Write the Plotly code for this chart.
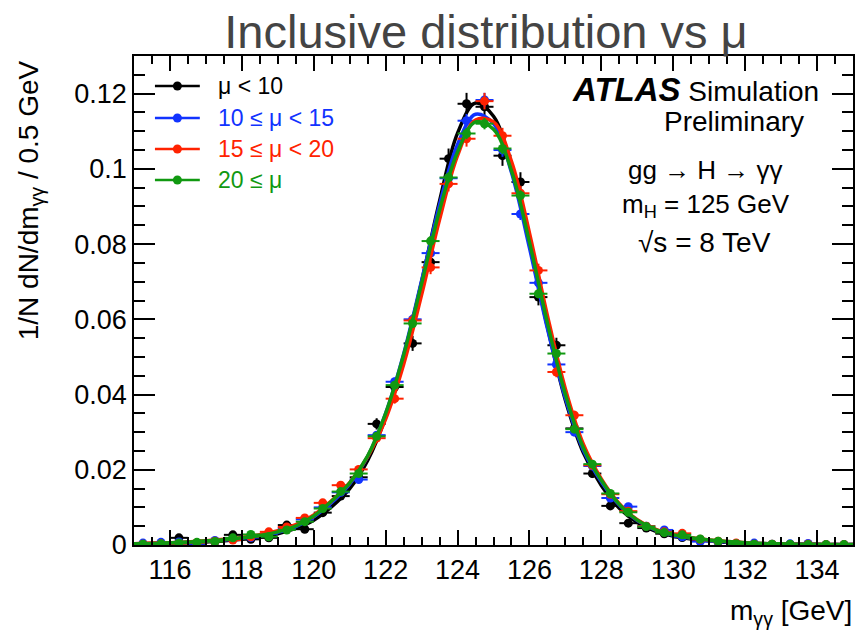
import plotly.graph_objects as go

# ---------------- data ----------------
bin_centers = [115.25 + 0.5 * i for i in range(40)]
curve_x = [115.0 + 0.5 * i for i in range(41)]

labels = ["μ < 10", "10 ≤ μ < 15", "15 ≤ μ < 20", "20 ≤ μ"]
colors = ["#000000", "#1133ff", "#ff2200", "#119911"]

pts_mu_lt10 = [0.0001, 0.0002, 0.0019, 0.0002, 0.0008, 0.0027, 0.0015, 0.0019, 0.0053, 0.0042,
               0.0086, 0.0130, 0.0180, 0.0322, 0.0420, 0.0536, 0.0752, 0.1027, 0.1173, 0.1165,
               0.1035, 0.0965, 0.0659, 0.0531, 0.0310, 0.0190, 0.0104, 0.0058, 0.0045, 0.0030,
               0.0020, 0.0012, 0.0008, 0.0004, 0.0002, 0.0001, 0.0001, 0.0001, 0.0000, 0.0000]
err_mu_lt10 = [0.0001, 0.0001, 0.0004, 0.0001, 0.0002, 0.0004, 0.0003, 0.0004, 0.0006, 0.0006,
               0.0008, 0.0010, 0.0011, 0.0015, 0.0017, 0.0020, 0.0023, 0.0027, 0.0029, 0.0029,
               0.0027, 0.0026, 0.0022, 0.0020, 0.0015, 0.0012, 0.0009, 0.0006, 0.0006, 0.0005,
               0.0004, 0.0003, 0.0002, 0.0002, 0.0001, 0.0001, 0.0001, 0.0001, 0.0000, 0.0000]

pts_mu_10_15 = [0.0005, 0.0007, 0.0008, 0.0003, 0.0012, 0.0015, 0.0020, 0.0030, 0.0045, 0.0068,
                0.0100, 0.0140, 0.0174, 0.0292, 0.0434, 0.0600, 0.0776, 0.0975, 0.1128, 0.1183,
                0.1050, 0.0880, 0.0697, 0.0480, 0.0300, 0.0210, 0.0125, 0.0102, 0.0050, 0.0040,
                0.0022, 0.0009, 0.0008, 0.0004, 0.0005, 0.0002, 0.0003, 0.0004, 0.0001, 0.0001]
err_mu_10_15 = [0.0001, 0.0001, 0.0002, 0.0001, 0.0002, 0.0002, 0.0002, 0.0003, 0.0004, 0.0005,
                0.0006, 0.0007, 0.0007, 0.0009, 0.0011, 0.0013, 0.0015, 0.0017, 0.0018, 0.0019,
                0.0018, 0.0016, 0.0015, 0.0012, 0.0010, 0.0008, 0.0006, 0.0006, 0.0004, 0.0003,
                0.0003, 0.0002, 0.0002, 0.0001, 0.0001, 0.0001, 0.0001, 0.0001, 0.0001, 0.0001]

pts_mu_15_20 = [0.0002, 0.0003, 0.0004, 0.0006, 0.0010, 0.0013, 0.0022, 0.0035, 0.0048, 0.0072,
                0.0112, 0.0159, 0.0201, 0.0284, 0.0389, 0.0597, 0.0738, 0.0960, 0.1080, 0.1180,
                0.1088, 0.0935, 0.0730, 0.0460, 0.0345, 0.0212, 0.0135, 0.0090, 0.0050, 0.0035,
                0.0031, 0.0015, 0.0010, 0.0005, 0.0002, 0.0002, 0.0001, 0.0002, 0.0001, 0.0001]
err_mu_15_20 = [0.0001, 0.0001, 0.0001, 0.0002, 0.0002, 0.0002, 0.0003, 0.0004, 0.0005, 0.0006,
                0.0007, 0.0008, 0.0009, 0.0011, 0.0013, 0.0016, 0.0018, 0.0020, 0.0021, 0.0022,
                0.0021, 0.0020, 0.0018, 0.0014, 0.0012, 0.0009, 0.0008, 0.0006, 0.0005, 0.0004,
                0.0004, 0.0003, 0.0002, 0.0001, 0.0001, 0.0001, 0.0001, 0.0001, 0.0001, 0.0001]

pts_mu_ge20 = [0.0002, 0.0003, 0.0005, 0.0007, 0.0009, 0.0019, 0.0028, 0.0022, 0.0040, 0.0062,
               0.0097, 0.0142, 0.0190, 0.0289, 0.0425, 0.0589, 0.0808, 0.0977, 0.1094, 0.1120,
               0.1054, 0.0929, 0.0668, 0.0509, 0.0308, 0.0215, 0.0137, 0.0087, 0.0049, 0.0033,
               0.0027, 0.0016, 0.0010, 0.0003, 0.0002, 0.0002, 0.0002, 0.0001, 0.0001, 0.0001]
err_mu_ge20 = [0.0001, 0.0001, 0.0001, 0.0001, 0.0001, 0.0002, 0.0002, 0.0002, 0.0003, 0.0004,
               0.0004, 0.0005, 0.0006, 0.0008, 0.0009, 0.0011, 0.0013, 0.0014, 0.0015, 0.0015,
               0.0015, 0.0014, 0.0012, 0.0010, 0.0008, 0.0007, 0.0005, 0.0004, 0.0003, 0.0003,
               0.0002, 0.0002, 0.0001, 0.0001, 0.0001, 0.0001, 0.0001, 0.0001, 0.0001, 0.0001]

fit_mu_lt10 = [0.0002, 0.0003, 0.0004, 0.0006, 0.0008, 0.0011, 0.0015, 0.0021, 0.0030, 0.0044,
               0.0066, 0.0102, 0.0150, 0.0225, 0.0340, 0.0500, 0.0700, 0.0915, 0.1095, 0.1175,
               0.1140, 0.1005, 0.0800, 0.0580, 0.0385, 0.0245, 0.0158, 0.0098, 0.0060, 0.0037,
               0.0024, 0.0016, 0.0011, 0.0007, 0.0005, 0.0003, 0.0002, 0.0002, 0.0001, 0.0001, 0.0001]
fit_mu_10_15 = [0.0003, 0.0004, 0.0005, 0.0007, 0.0010, 0.0013, 0.0018, 0.0024, 0.0034, 0.0049,
                0.0075, 0.0113, 0.0162, 0.0235, 0.0350, 0.0508, 0.0703, 0.0905, 0.1065, 0.1145,
                0.1120, 0.0990, 0.0790, 0.0575, 0.0390, 0.0252, 0.0168, 0.0106, 0.0065, 0.0040,
                0.0026, 0.0018, 0.0012, 0.0008, 0.0006, 0.0004, 0.0003, 0.0002, 0.0002, 0.0001, 0.0001]
fit_mu_15_20 = [0.0003, 0.0005, 0.0006, 0.0008, 0.0011, 0.0015, 0.0020, 0.0027, 0.0038, 0.0054,
                0.0080, 0.0118, 0.0166, 0.0235, 0.0335, 0.0480, 0.0665, 0.0865, 0.1035, 0.1130,
                0.1125, 0.1020, 0.0830, 0.0610, 0.0415, 0.0268, 0.0176, 0.0110, 0.0067, 0.0042,
                0.0028, 0.0019, 0.0013, 0.0009, 0.0006, 0.0004, 0.0003, 0.0002, 0.0002, 0.0001, 0.0001]
fit_mu_ge20 = [0.0003, 0.0004, 0.0006, 0.0008, 0.0011, 0.0014, 0.0019, 0.0025, 0.0035, 0.0050,
               0.0077, 0.0117, 0.0165, 0.0237, 0.0350, 0.0505, 0.0695, 0.0890, 0.1045, 0.1125,
               0.1105, 0.0995, 0.0805, 0.0590, 0.0400, 0.0258, 0.0172, 0.0108, 0.0066, 0.0041,
               0.0027, 0.0019, 0.0013, 0.0009, 0.0006, 0.0004, 0.0003, 0.0002, 0.0002, 0.0001, 0.0001]

series_pts = [pts_mu_lt10, pts_mu_10_15, pts_mu_15_20, pts_mu_ge20]
series_err = [err_mu_lt10, err_mu_10_15, err_mu_15_20, err_mu_ge20]
series_fit = [fit_mu_lt10, fit_mu_10_15, fit_mu_15_20, fit_mu_ge20]

# ---------------- figure ----------------
FONT = "Liberation Sans, Arial, Helvetica, sans-serif"
fig = go.Figure()

for lab, col, pts, err, fit in zip(labels, colors, series_pts, series_err, series_fit):
    fig.add_trace(go.Scatter(
        x=bin_centers, y=pts, mode="markers", name=lab, showlegend=False,
        marker=dict(color=col, size=9),
        error_y=dict(type="data", array=err, color=col, thickness=2, width=0),
        error_x=dict(type="constant", value=0.25, color=col, thickness=2, width=0),
    ))
    fig.add_trace(go.Scatter(
        x=curve_x, y=fit, mode="lines", showlegend=False,
        line=dict(color=col, width=3.5, shape="spline", smoothing=1.0),
    ))

# plot-area pixel geometry helpers (for legend / text placement only)
L, R, T, B = 134, 855, 56, 545
def px(xp):
    return (xp - L) / (R - L)
def py(yp):
    return (B - yp) / (B - T)

shapes = []
annotations = []
legend_rows = [86, 118, 149, 180]
for lab, col, yr in zip(labels, colors, legend_rows):
    shapes.append(dict(type="line", xref="paper", yref="paper",
                       x0=px(155), x1=px(200), y0=py(yr), y1=py(yr),
                       line=dict(color=col, width=2.5)))
    shapes.append(dict(type="circle", xref="paper", yref="paper",
                       x0=px(177.5 - 4.5), x1=px(177.5 + 4.5),
                       y0=py(yr + 4.5), y1=py(yr - 4.5),
                       fillcolor=col, line=dict(color=col, width=0)))
    annotations.append(dict(xref="paper", yref="paper", x=px(216), y=py(yr),
                            xanchor="left", yanchor="middle", showarrow=False,
                            text=lab, font=dict(family=FONT, size=23, color=col)))

txt = dict(xref="paper", yref="paper", showarrow=False,
           font=dict(family=FONT, size=28, color="#000000"))
txt_small = dict(txt, font=dict(family=FONT, size=26, color="#000000"))
ARROW = "→"
annotations += [
    dict(txt, x=px(823), y=py(89), xanchor="right", yanchor="middle",
         text="<b><i><span style='font-size:33px'>ATLAS</span></i></b> Simulation"),
    dict(txt, x=px(808), y=py(121), xanchor="right", yanchor="middle",
         text="Preliminary"),
    dict(txt_small, x=px(707), y=py(170), xanchor="center", yanchor="middle",
         text="gg " + ARROW + " H " + ARROW + " γγ"),
    dict(txt_small, x=px(708), y=py(205), xanchor="center", yanchor="middle",
         text="m<sub>H</sub> = 125 GeV"),
    dict(txt, x=px(706), y=py(242), xanchor="center", yanchor="middle",
         text="√s = 8 TeV"),
    # axis titles (ROOT style, aligned to the axis end)
    dict(txt, x=px(856), y=py(612), xanchor="right", yanchor="middle",
         text="m<sub>γγ</sub> [GeV]"),
    dict(txt, x=px(30), y=py(58), xanchor="center", yanchor="top", textangle=-90,
         text="1/N dN/dm<sub>γγ</sub> / 0.5 GeV"),
]

axis_common = dict(
    showgrid=False, zeroline=False, showline=True, linecolor="#000000", linewidth=1.5,
    mirror="ticks", ticks="inside", tickcolor="#000000", tickwidth=1.5,
    tickfont=dict(family=FONT, size=27, color="#000000"),
)

fig.update_layout(
    width=858, height=631,
    margin=dict(l=L, r=858 - R, t=T, b=631 - B),
    paper_bgcolor="white", plot_bgcolor="white",
    title=dict(text="Inclusive distribution vs μ", x=486 / 858, xanchor="center",
               y=1 - 32 / 631, yanchor="middle",
               font=dict(family=FONT, size=47, color="#444444")),
    xaxis=dict(axis_common, range=[115, 135], tick0=0, dtick=2, ticklen=15,
               minor=dict(dtick=0.5, ticklen=8, ticks="inside", tickcolor="#000000", tickwidth=1.5)),
    yaxis=dict(axis_common, range=[0, 0.13], tick0=0, dtick=0.02, ticklen=21,
               minor=dict(dtick=0.005, ticklen=11, ticks="inside", tickcolor="#000000", tickwidth=1.5)),
    shapes=shapes,
    annotations=annotations,
    showlegend=False,
)

fig.write_html("out.html")
